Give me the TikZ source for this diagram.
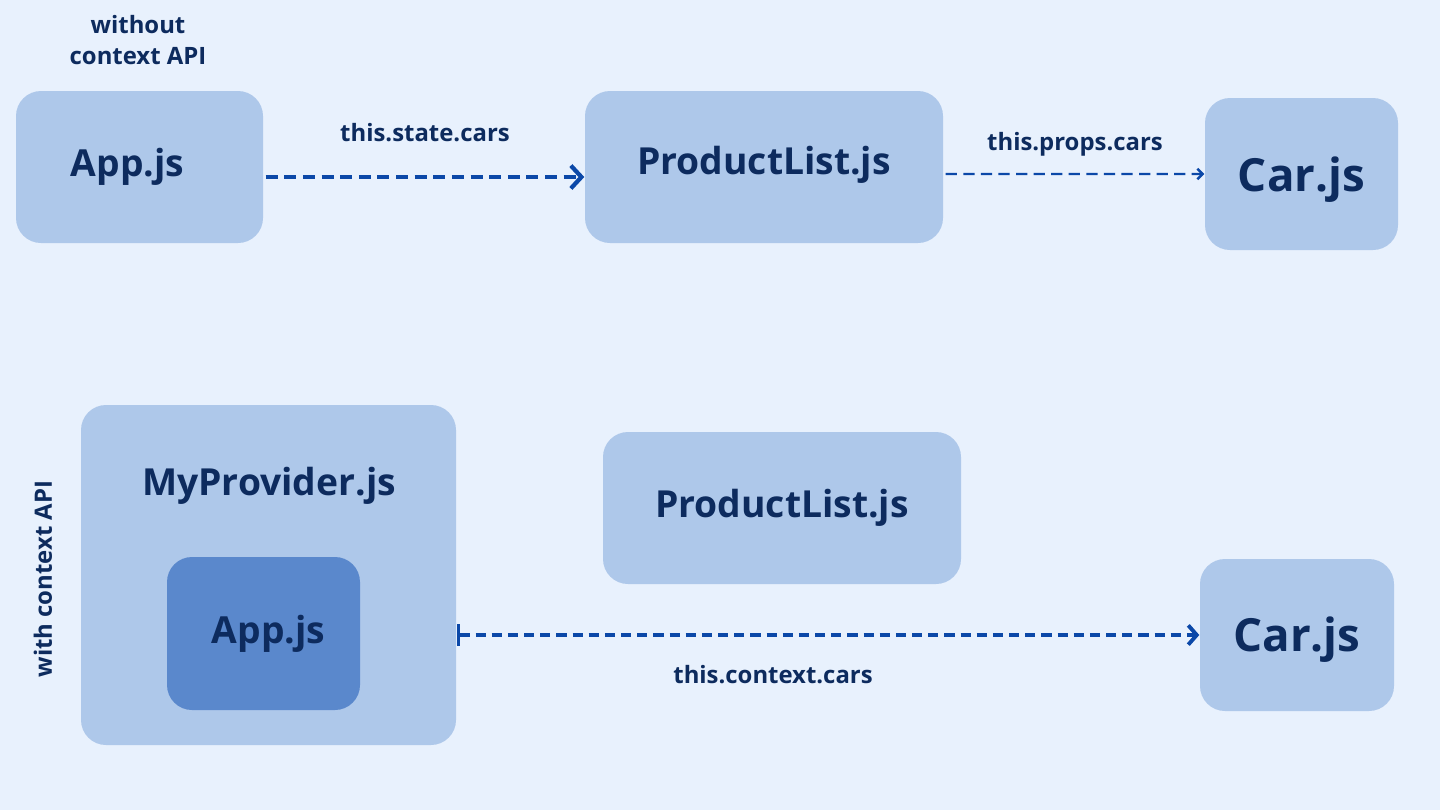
\documentclass[tikz,border=0pt]{standalone}
\usepackage{fontspec}
\setmainfont{Open Sans}
\usetikzlibrary{arrows.meta}

\definecolor{bgblue}{HTML}{E8F1FD}
\definecolor{boxblue}{HTML}{AEC8EA}
\definecolor{innerblue}{HTML}{5A88CC}
\definecolor{textnavy}{HTML}{0D2B5E}
\definecolor{arrowblue}{HTML}{0B48A8}

\begin{document}
\begin{tikzpicture}[font=\bfseries, text=textnavy,
                comp/.style={rectangle, rounded corners=0.25cm, fill=boxblue, inner sep=0pt,
                        minimum height=1.52cm, font=\fontsize{10.6pt}{12pt}\bfseries},
                note/.style={font=\fontsize{6.8pt}{9pt}\bfseries, align=center},
                flow/.style={draw=arrowblue, line width=1.1pt, dash pattern=on 3.4pt off 1.9pt}]

                % Canvas
                \useasboundingbox (0,0) rectangle (14.4,8.1);
                \fill[bgblue] (0,0) rectangle (14.4,8.1);

                % Without context API
                \node[note] (without) at (1.38,7.70) {without\\context API};
                \node[comp, minimum width=2.47cm] (App) at (1.395,6.43) {\hspace*{-0.24cm}App.js};
                \node[comp, minimum width=3.58cm] (List) at (7.64,6.43) {\raisebox{0.02cm}[\height][\depth]{ProductList.js}};
                \node[comp, minimum width=1.93cm, font=\fontsize{13pt}{15pt}\bfseries] (Car) at (13.015,6.36) {\raisebox{-0.06cm}[\height][\depth]{Car.js}};

                % With context API
                \node[note, rotate=90] (with) at (0.43,2.31) {with context API};
                \node[comp, minimum width=3.75cm, minimum height=3.40cm] (Provider) at (2.685,2.35) {};
                \node[font=\fontsize{10.6pt}{12pt}\bfseries] (ProviderLabel) at (2.69,3.24) {MyProvider.js};
                \node[comp, fill=innerblue, minimum width=1.93cm, minimum height=1.53cm] (AppIn) at (2.635,1.765) {\hspace*{0.1cm}App.js};
                \node[comp, minimum width=3.58cm] (ListB) at (7.82,3.02) {ProductList.js};
                \node[comp, minimum width=1.94cm, font=\fontsize{13pt}{15pt}\bfseries] (CarB) at (12.97,1.75) {\raisebox{-0.05cm}[\height][\depth]{Car.js}};

                % Define edges
                \draw[flow, -{Straight Barb[length=3pt, width=6.5pt, line width=1.2pt]}]
                        ([xshift=0.02cm, yshift=-0.1cm]App.east) -- ([yshift=-0.1cm]List.west)
                        node[note, midway, above=0.22cm] (state) {this.state.cars};
                \draw[flow, line width=0.7pt, dash pattern=on 3.2pt off 1.8pt,
                        -{Straight Barb[length=1.5pt, width=3pt, line width=0.7pt]}]
                        ([xshift=0.02cm, yshift=-0.07cm]List.east) -- (Car.west)
                        node[note, midway, above=0.05cm] (props) {this.props.cars};
                \draw[flow, line width=1pt, dash pattern=on 2.9pt off 1.7pt,
                        {Bar[width=6pt, line width=1pt]}-{Straight Barb[length=2.4pt, width=5.5pt, line width=1.1pt]}]
                        (Provider.east |- CarB.west) -- (CarB.west)
                        node[note, pos=0.426, below=0.17cm] (context) {this.context.cars};
\end{tikzpicture}
\end{document}
